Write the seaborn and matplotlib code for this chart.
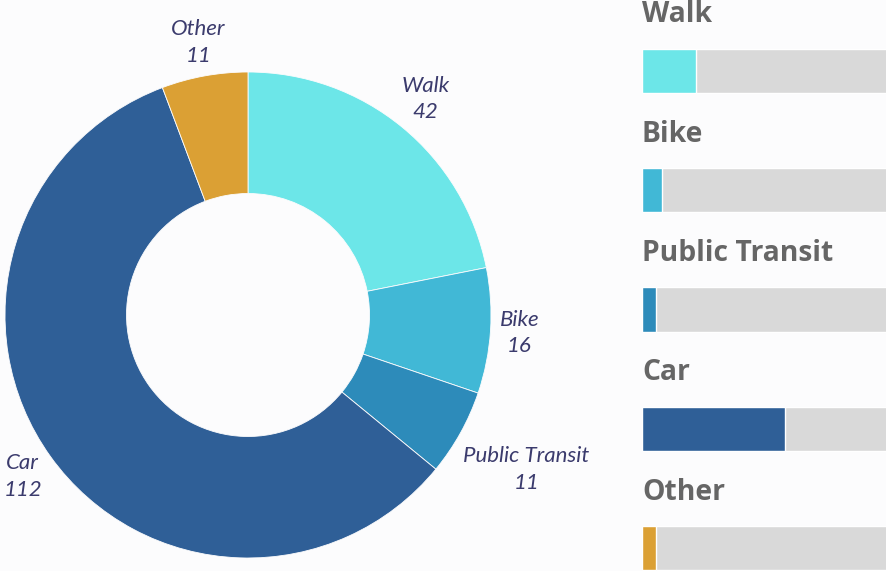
import numpy as np
import matplotlib.pyplot as plt
import seaborn as sns
import pandas as pd

# Data
modes = ["Walk", "Bike", "Public Transit", "Car", "Other"]
counts = [42, 16, 11, 112, 11]
colors = ["#6ce6e8", "#41b8d6", "#2d8bba", "#2f5f97", "#dba034"]

W, H = 887, 571
BG = "#fcfcfd"
LABEL_COLOR = "#3b3b6d"

sns.set_theme(style="white")
plt.rcParams['font.family'] = ['Lato', 'DejaVu Sans']

fig = plt.figure(figsize=(W / 100, H / 100), dpi=100, facecolor=BG)

# ---- Donut ----
cx, cy, R = 248, 315, 243  # pixels (from top)
ax_w = 640
ax = fig.add_axes([0, 0, ax_w / W, 1])
ax.set_facecolor(BG)
wedges, _ = ax.pie(counts, colors=colors, startangle=90, counterclock=False,
                   radius=1, wedgeprops=dict(width=0.5, edgecolor=BG, linewidth=0.6))
ax.set_xlim(-cx / R, (ax_w - cx) / R)
ax.set_ylim(-(H - cy) / R, cy / R)
ax.set_aspect('auto')
ax.axis('off')

total = sum(counts)
label_dist = [1.15, 1.12, 1.31, 1.14, 1.14]
start = 90.0
for name, val, d in zip(modes, counts, label_dist):
    span = 360.0 * val / total
    mid = np.deg2rad(start - span / 2)
    start -= span
    ax.text(d * np.cos(mid), d * np.sin(mid), f"{name}\n{val}", ha='center', va='center',
            fontsize=16, style='italic', color=LABEL_COLOR, linespacing=1.4)

# ---- Bars ----
bx0 = 642
bax = fig.add_axes([bx0 / W, 0, (W - bx0) / W, 1])
bax.set_facecolor(BG)
df = pd.DataFrame({"mode": modes, "share": np.array(counts) / total, "track": 1.0})
sns.barplot(data=df, y="mode", x="track", color="#d9d9d9", width=0.37, ax=bax,
            orient='h', saturation=1)
sns.barplot(data=df, y="mode", x="share", hue="mode", palette=colors, width=0.37,
            ax=bax, orient='h', legend=False, saturation=1)
step = 119.25
bax.set_ylim(4 + (H - 548) / step, -71 / step)
bax.set_xlim(0, 1)
for i, name in enumerate(modes):
    bax.text(0.0, i - 56 / step, name, ha='left', va='center', fontsize=20.3,
             fontweight='bold', family=['Open Sans', 'DejaVu Sans'], color="#666666")
bax.axis('off')

fig.savefig("out.png", dpi=100, facecolor=BG)
